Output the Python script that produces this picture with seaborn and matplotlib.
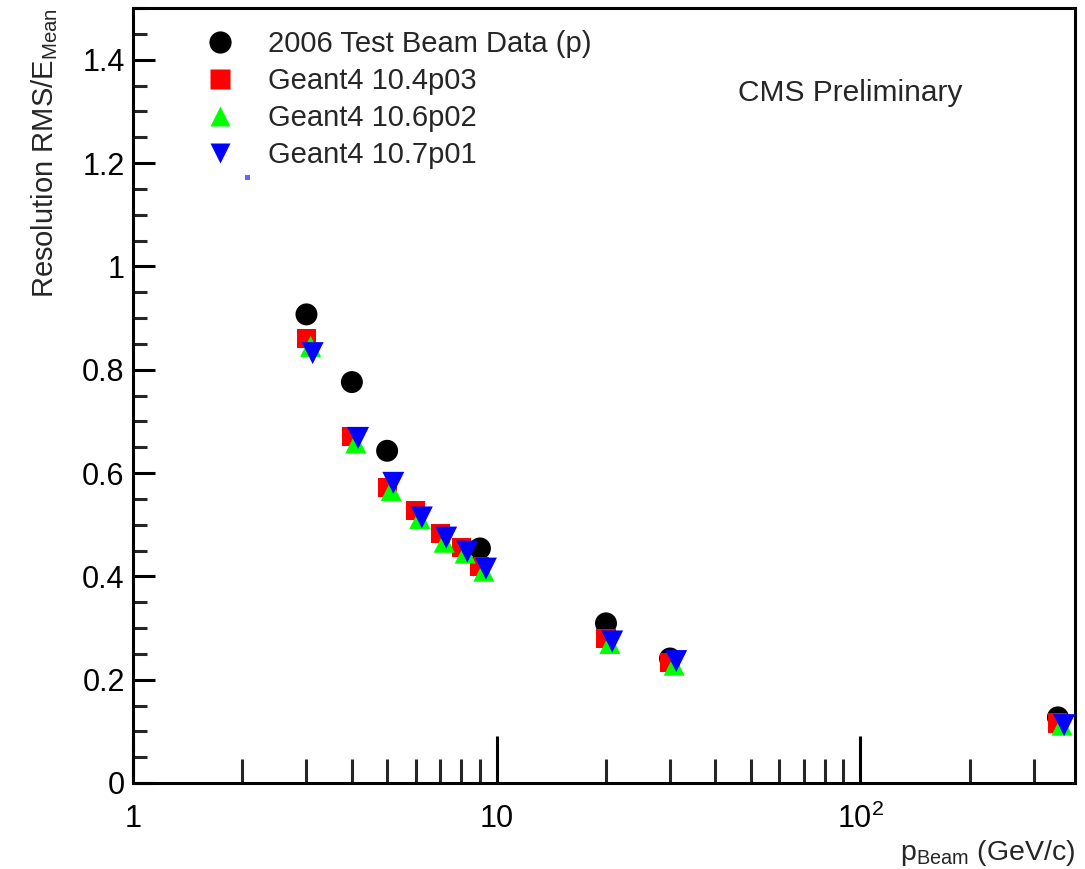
import numpy as np
import pandas as pd
import seaborn as sns
import matplotlib
matplotlib.use("Agg")
import matplotlib.pyplot as plt
from matplotlib.lines import Line2D
from matplotlib.ticker import LogLocator, FixedLocator, MultipleLocator, FixedFormatter, NullFormatter

# ---- data ----
data_x = [3, 4, 5, 9, 20, 30, 350]
data_y = [0.907, 0.776, 0.643, 0.454, 0.309, 0.241, 0.127]

g104_x = [3, 4, 5, 6, 7, 8, 9, 20, 30, 350]
g104_y = [0.861, 0.670, 0.572, 0.527, 0.483, 0.456, 0.419, 0.280, 0.234, 0.116]

g106_x = [3.08, 4.1, 5.13, 6.15, 7.18, 8.2, 9.23, 20.5, 30.8, 359]
g106_y = [0.845, 0.658, 0.566, 0.512, 0.466, 0.445, 0.410, 0.270, 0.228, 0.112]

g107_x = [3.12, 4.16, 5.2, 6.23, 7.27, 8.31, 9.35, 20.8, 31.2, 364]
g107_y = [0.832, 0.668, 0.581, 0.514, 0.475, 0.448, 0.415, 0.274, 0.236, 0.112]

stray_x = [2.07]
stray_y = [1.172]

labels = ["2006 Test Beam Data (p)", "Geant4 10.4p03", "Geant4 10.6p02", "Geant4 10.7p01"]
x_major = [1, 10, 100]
x_major_labels = ["1", "10", r"$\mathregular{10^{2}}$"]
y_major = [0, 0.2, 0.4, 0.6, 0.8, 1.0, 1.2, 1.4]
y_major_labels = ["0", "0.2", "0.4", "0.6", "0.8", "1", "1.2", "1.4"]

sns.set_theme(style="white")
plt.rcParams["font.family"] = ["Liberation Sans", "DejaVu Sans"]

fig = plt.figure(figsize=(10.85, 8.69), dpi=100)
ax = fig.add_axes([133 / 1085, 1 - 783 / 869, (1075 - 133) / 1085, (783 - 8) / 869])

sns.scatterplot(x=data_x, y=data_y, ax=ax, marker="o", s=250, color="black", edgecolor="none", zorder=3)
sns.scatterplot(x=g104_x, y=g104_y, ax=ax, marker="s", s=190, color="#ff0000", edgecolor="none", zorder=4)
sns.scatterplot(x=g106_x, y=g106_y, ax=ax, marker="^", s=230, color="#00ff00", edgecolor="none", zorder=5)
sns.scatterplot(x=g107_x, y=g107_y, ax=ax, marker="v", s=250, color="#0000ff", edgecolor="none", zorder=6)
sns.scatterplot(x=stray_x, y=stray_y, ax=ax, marker="s", s=12, color="#6666ff", edgecolor="none", zorder=6)

ax.set_xscale("log")
ax.set_xlim(1, 390)
ax.set_ylim(0, 1.5)

ax.xaxis.set_major_locator(FixedLocator(x_major))
ax.xaxis.set_major_formatter(FixedFormatter(x_major_labels))
ax.xaxis.set_minor_locator(LogLocator(base=10, subs=np.arange(2, 10)))
ax.xaxis.set_minor_formatter(NullFormatter())
ax.yaxis.set_major_locator(FixedLocator(y_major))
ax.yaxis.set_major_formatter(FixedFormatter(y_major_labels))
ax.yaxis.set_minor_locator(MultipleLocator(0.05))

for sp in ax.spines.values():
    sp.set_linewidth(2.2)
    sp.set_color("black")

ax.tick_params(axis="x", which="major", direction="in", length=34, width=2.2, pad=15,
               labelsize=22, colors="black", bottom=True, top=False)
ax.tick_params(axis="x", which="minor", direction="in", length=17, width=2.2, bottom=True, top=False)
ax.tick_params(axis="y", which="major", direction="in", length=16, width=2.2, pad=6,
               labelsize=22, colors="black", left=True, right=False)
ax.tick_params(axis="y", which="minor", direction="in", length=10, width=2.2, left=True, right=False)

ax.set_xlabel(r"$\mathregular{p_{Beam}}$ (GeV/c)", fontsize=20.5, loc="right", labelpad=2)
ax.set_ylabel(r"Resolution RMS/$\mathregular{E_{Mean}}$", fontsize=21, loc="top", labelpad=16)

ax.text(0.642, 0.89, "CMS Preliminary", transform=ax.transAxes, fontsize=21.5, ha="left", va="center")

handles = [
    Line2D([], [], linestyle="none", marker="o", markersize=16, color="black", markeredgecolor="none"),
    Line2D([], [], linestyle="none", marker="s", markersize=15, color="#ff0000", markeredgecolor="none"),
    Line2D([], [], linestyle="none", marker="^", markersize=15, color="#00ff00", markeredgecolor="none"),
    Line2D([], [], linestyle="none", marker="v", markersize=15, color="#0000ff", markeredgecolor="none"),
]
ax.legend(handles, labels, loc="upper left", bbox_to_anchor=(0.055, 0.998), frameon=False,
          fontsize=21, labelspacing=0.31, handlelength=1.0, handletextpad=1.15, borderpad=0.2)

fig.savefig("out.png", dpi=100)
